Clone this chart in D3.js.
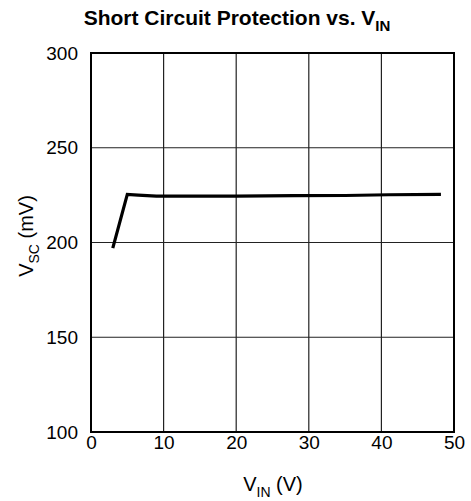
<!DOCTYPE html>
<html>
<head>
<meta charset="utf-8">
<script src="https://cdn.jsdelivr.net/npm/d3@7.9.0/dist/d3.min.js"></script>
<style>
  body { margin: 0; background: #fff; }
  text { font-family: "Liberation Sans", Arial, Helvetica, sans-serif; fill: #000; }
</style>
</head>
<body>
<svg id="chart" width="471" height="501"></svg>
<script>
// V_IN (V) vs V_SC (mV)
const vin = [3, 5, 6.5, 9, 20, 28, 35, 41, 48.2];
const vsc = [197, 225.4, 225, 224.5, 224.5, 224.7, 224.8, 225.2, 225.4];

const xTicks = [0, 10, 20, 30, 40, 50];
const yTicks = [100, 150, 200, 250, 300];

const margin = { top: 53, right: 17, bottom: 69, left: 91 };
const width = 471 - margin.left - margin.right;
const height = 501 - margin.top - margin.bottom;

const svg = d3.select("#chart");
const g = svg.append("g").attr("transform", `translate(${margin.left},${margin.top})`);

const x = d3.scaleLinear().domain([0, 50]).range([0, width]);
const y = d3.scaleLinear().domain([100, 300]).range([height, 0]);

// grid
g.append("g")
  .selectAll("line")
  .data(xTicks)
  .join("line")
  .attr("x1", (d) => x(d))
  .attr("x2", (d) => x(d))
  .attr("y1", 0)
  .attr("y2", height)
  .attr("stroke", "#222")
  .attr("stroke-width", 1.2);

g.append("g")
  .selectAll("line")
  .data(yTicks)
  .join("line")
  .attr("x1", 0)
  .attr("x2", width)
  .attr("y1", (d) => y(d))
  .attr("y2", (d) => y(d))
  .attr("stroke", "#222")
  .attr("stroke-width", 1.2);

// frame
g.append("rect")
  .attr("width", width)
  .attr("height", height)
  .attr("fill", "none")
  .attr("stroke", "#000")
  .attr("stroke-width", 2);

// axes (labels only)
const xAxis = g.append("g")
  .attr("transform", `translate(0,${height})`)
  .call(d3.axisBottom(x).tickValues(xTicks).tickSize(0).tickPadding(4));
const yAxis = g.append("g")
  .call(d3.axisLeft(y).tickValues(yTicks).tickSize(0).tickPadding(13));
[xAxis, yAxis].forEach((a) => {
  a.select(".domain").remove();
  a.selectAll("text").style("font-size", "19px").style("font-family", '"Liberation Sans", Arial, sans-serif');
});

// curve
const line = d3.line()
  .x((d, i) => x(vin[i]))
  .y((d) => y(d));
g.append("path")
  .datum(vsc)
  .attr("d", line)
  .attr("fill", "none")
  .attr("stroke", "#000")
  .attr("stroke-width", 3.2)
  .attr("stroke-linejoin", "miter");

// title
const title = svg.append("text")
  .attr("x", 237)
  .attr("y", 25)
  .attr("text-anchor", "middle")
  .style("font-size", "21px")
  .style("font-weight", "bold");
title.append("tspan").text("Short Circuit Protection vs. V");
title.append("tspan").attr("dy", 6).style("font-size", "15px").text("IN");

// x label
const xl = svg.append("text")
  .attr("x", 273)
  .attr("y", 491)
  .attr("text-anchor", "middle")
  .style("font-size", "20px");
xl.append("tspan").text("V");
xl.append("tspan").attr("dy", 6).style("font-size", "14px").text("IN");
xl.append("tspan").attr("dy", -6).text(" (V)");

// y label
const yl = svg.append("text")
  .attr("transform", "translate(33,236) rotate(-90)")
  .attr("text-anchor", "middle")
  .style("font-size", "20px");
yl.append("tspan").text("V");
yl.append("tspan").attr("dy", 6).style("font-size", "14px").text("SC");
yl.append("tspan").attr("dy", -6).text(" (mV)");
</script>
</body>
</html>
